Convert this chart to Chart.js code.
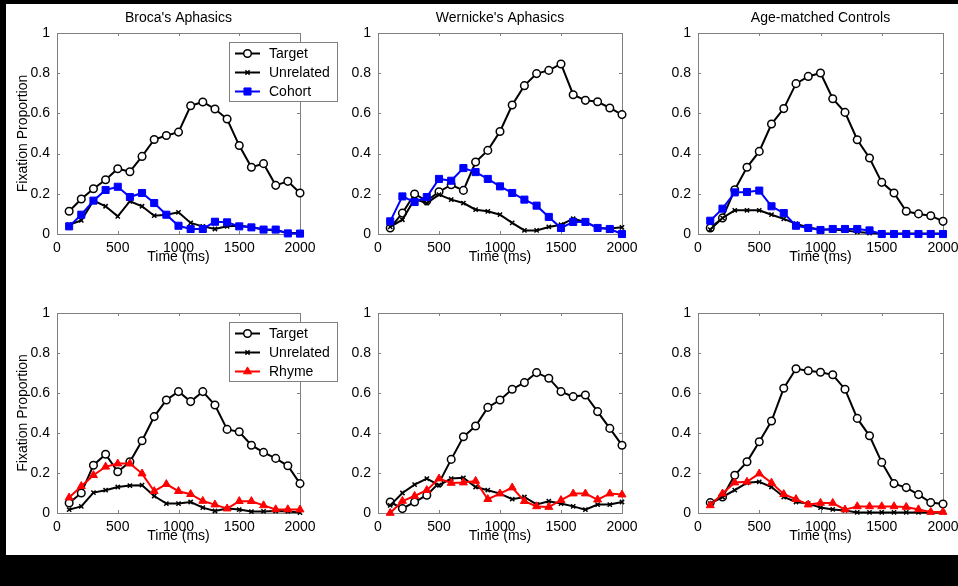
<!DOCTYPE html>
<html><head><meta charset="utf-8">
<script src="https://cdn.jsdelivr.net/npm/chart.js@4.4.0/dist/chart.umd.min.js"></script>
<style>
html,body{margin:0;padding:0;background:#fff;}
body{width:958px;height:586px;position:relative;overflow:hidden;}
canvas{position:absolute;}
.band{position:absolute;background:#000;z-index:10;}
</style></head><body>
<div class="band" style="left:0;top:0;width:958px;height:4px"></div>
<div class="band" style="left:0;top:0;width:6px;height:586px"></div>
<div class="band" style="left:0;top:555px;width:958px;height:31px"></div>
<script>
// ---- data ----
const timeMs = [100,200,300,400,500,600,700,800,900,1000,1100,1200,1300,1400,1500,1600,1700,1800,1900,2000];
const xTickValues = [0,500,1000,1500,2000];
const yTickValues = [0,0.2,0.4,0.6,0.8,1];
const panelTitles = ["Broca's Aphasics","Wernicke's Aphasics","Age-matched Controls"];
const seriesLabels = ["Target","Unrelated","Cohort","Rhyme"];
const yAxisLabel = "Fixation Proportion";
const xAxisLabel = "Time (ms)";

const brocaCohortTarget    = [0.113,0.174,0.225,0.27,0.325,0.31,0.386,0.47,0.49,0.507,0.638,0.657,0.622,0.572,0.44,0.332,0.35,0.242,0.262,0.204];
const brocaCohortUnrelated = [0.046,0.068,0.166,0.138,0.088,0.163,0.138,0.091,0.096,0.108,0.055,0.038,0.025,0.038,0.041,0.035,0.022,0.018,0.005,0.005];
const brocaCohort          = [0.038,0.096,0.166,0.219,0.235,0.184,0.204,0.154,0.096,0.041,0.025,0.025,0.061,0.058,0.038,0.033,0.022,0.022,0.003,0.002];

const wernCohortTarget     = [0.03,0.104,0.199,0.165,0.21,0.245,0.217,0.358,0.416,0.51,0.642,0.738,0.798,0.814,0.846,0.693,0.665,0.658,0.627,0.594];
const wernCohortUnrelated  = [0.035,0.071,0.174,0.154,0.196,0.171,0.154,0.121,0.113,0.096,0.055,0.018,0.018,0.035,0.046,0.076,0.06,0.03,0.027,0.033];
const wernCohort           = [0.063,0.187,0.159,0.184,0.274,0.265,0.328,0.308,0.274,0.237,0.204,0.171,0.141,0.085,0.03,0.06,0.06,0.03,0.025,0.0];

const ctrlCohortTarget     = [0.03,0.08,0.22,0.332,0.411,0.547,0.624,0.748,0.784,0.801,0.673,0.605,0.469,0.378,0.257,0.204,0.113,0.1,0.091,0.063];
const ctrlCohortUnrelated  = [0.022,0.08,0.118,0.118,0.118,0.096,0.075,0.051,0.033,0.022,0.022,0.018,0.01,0.005,0.002,0.002,0.002,0.002,0.002,0.002];
const ctrlCohort           = [0.066,0.126,0.207,0.209,0.216,0.138,0.104,0.041,0.03,0.02,0.025,0.025,0.025,0.018,0.0,0.0,0.0,0.0,0.0,0.0];

const brocaRhymeTarget     = [0.05,0.1,0.239,0.294,0.206,0.256,0.361,0.482,0.565,0.607,0.557,0.607,0.54,0.418,0.406,0.339,0.303,0.273,0.236,0.147];
const brocaRhymeUnrelated  = [0.017,0.033,0.102,0.114,0.13,0.137,0.139,0.085,0.047,0.047,0.055,0.027,0.01,0.022,0.017,0.007,0.008,0.01,0.008,0.002];
const brocaRhyme           = [0.077,0.134,0.189,0.231,0.247,0.247,0.197,0.109,0.144,0.109,0.094,0.06,0.042,0.022,0.059,0.059,0.038,0.018,0.018,0.017];

const wernRhymeTarget      = [0.055,0.022,0.055,0.089,0.15,0.268,0.381,0.435,0.528,0.565,0.619,0.652,0.702,0.674,0.607,0.582,0.59,0.507,0.423,0.339];
const wernRhymeUnrelated   = [0.038,0.1,0.142,0.172,0.139,0.172,0.176,0.13,0.114,0.097,0.069,0.08,0.043,0.059,0.047,0.033,0.017,0.042,0.042,0.055];
const wernRhyme            = [0,0.06,0.085,0.114,0.172,0.15,0.152,0.16,0.069,0.097,0.127,0.059,0.033,0.03,0.064,0.097,0.097,0.067,0.097,0.092];

const ctrlRhymeTarget      = [0.052,0.08,0.189,0.256,0.356,0.46,0.624,0.721,0.711,0.704,0.691,0.619,0.473,0.386,0.253,0.147,0.127,0.092,0.052,0.045];
const ctrlRhymeUnrelated   = [0.047,0.08,0.114,0.151,0.156,0.13,0.08,0.055,0.047,0.027,0.018,0.013,0.003,0.003,0.003,0.003,0.003,0.003,0.003,0.003];
const ctrlRhyme            = [0.038,0.097,0.152,0.156,0.197,0.151,0.094,0.069,0.042,0.05,0.05,0.017,0.033,0.033,0.033,0.033,0.03,0.018,0.005,0.005];

// ---- layout (plot rectangles in page pixels) ----
const FONT = "'Liberation Sans', Arial, Helvetica, sans-serif";
const L = 55, R = 40, T = 33, B = 40;
const panels = [
  {plot:[57,33,300,234],   title:panelTitles[0], yLabel:true,  legend:true,  t:brocaCohortTarget, u:brocaCohortUnrelated, c:brocaCohort, kind:'cohort'},
  {plot:[378,33,622,234],  title:panelTitles[1], yLabel:false, legend:false, t:wernCohortTarget,  u:wernCohortUnrelated,  c:wernCohort,  kind:'cohort'},
  {plot:[698,33,943,234],  title:panelTitles[2], yLabel:false, legend:false, t:ctrlCohortTarget,  u:ctrlCohortUnrelated,  c:ctrlCohort,  kind:'cohort'},
  {plot:[57,313,300,513],  title:null, yLabel:true,  legend:true,  t:brocaRhymeTarget, u:brocaRhymeUnrelated, c:brocaRhyme, kind:'rhyme'},
  {plot:[378,313,622,513], title:null, yLabel:false, legend:false, t:wernRhymeTarget,  u:wernRhymeUnrelated,  c:wernRhyme,  kind:'rhyme'},
  {plot:[698,313,943,513], title:null, yLabel:false, legend:false, t:ctrlRhymeTarget,  u:ctrlRhymeUnrelated,  c:ctrlRhyme,  kind:'rhyme'}
];

const toXY = arr => arr.map((v,i)=>({x:timeMs[i], y:v}));

const matlabPlugin = {
  id:'matlab',
  beforeDatasetsDraw(chart){
    const {ctx, chartArea:a, scales} = chart;
    ctx.save();
    ctx.strokeStyle = '#808080';
    ctx.lineWidth = 1;
    ctx.strokeRect(Math.round(a.left)+0.5, Math.round(a.top)+0.5, Math.round(a.right-a.left), Math.round(a.bottom-a.top));
    ctx.beginPath();
    const tl = 3;
    xTickValues.forEach(v=>{
      const px = Math.round(scales.x.getPixelForValue(v))+0.5;
      if (v===xTickValues[0]||v===xTickValues[xTickValues.length-1]) return;
      ctx.moveTo(px, a.bottom); ctx.lineTo(px, a.bottom-tl);
      ctx.moveTo(px, a.top); ctx.lineTo(px, a.top+tl);
    });
    yTickValues.forEach(v=>{
      const py = Math.round(scales.y.getPixelForValue(v))+0.5;
      if (v===yTickValues[0]||v===yTickValues[yTickValues.length-1]) return;
      ctx.moveTo(a.left, py); ctx.lineTo(a.left+tl, py);
      ctx.moveTo(a.right, py); ctx.lineTo(a.right-tl, py);
    });
    ctx.stroke();
    ctx.restore();
  },
  afterDraw(chart){
    const {ctx, chartArea:a} = chart;
    const o = chart.options.plugins.matlab;
    ctx.save();
    ctx.fillStyle = '#000';
    ctx.font = '14px ' + FONT;
    ctx.textAlign = 'center';
    ctx.textBaseline = 'alphabetic';
    const cx = (a.left+a.right)/2;
    if (o.title) ctx.fillText(o.title, cx, a.top - 11);
    ctx.fillText(xAxisLabel, cx, a.bottom + 27);
    if (o.yLabel) {
      ctx.save();
      ctx.translate(a.left - 30, (a.top+a.bottom)/2);
      ctx.rotate(-Math.PI/2);
      ctx.fillText(yAxisLabel, 0, 0);
      ctx.restore();
    }
    if (o.legend) {
      const bx = a.left + 172, by = a.top + 9, bw = 108, bh = 59;
      ctx.fillStyle = '#fff';
      ctx.fillRect(bx, by, bw, bh);
      ctx.strokeStyle = '#808080';
      ctx.lineWidth = 1;
      ctx.strokeRect(bx+0.5, by+0.5, bw, bh);
      chart.data.datasets.forEach((ds, i) => {
        const y = by + 11.5 + i*19;
        const x0 = bx + 6, x1 = bx + 31;
        ctx.strokeStyle = ds.borderColor;
        ctx.lineWidth = ds.borderWidth;
        ctx.beginPath(); ctx.moveTo(x0, y); ctx.lineTo(x1, y); ctx.stroke();
        ctx.fillStyle = ds.pointBackgroundColor;
        ctx.strokeStyle = ds.pointBorderColor;
        ctx.lineWidth = ds.pointBorderWidth;
        Chart.helpers.drawPoint(ctx, {pointStyle: ds.pointStyle, radius: ds.pointRadius, rotation: 0, borderWidth: ds.pointBorderWidth}, (x0+x1)/2, y);
        ctx.fillStyle = '#000';
        ctx.textAlign = 'left';
        ctx.textBaseline = 'middle';
        ctx.font = '14px ' + FONT;
        ctx.fillText(ds.label, bx + 40, y + 1);
      });
    }
    ctx.restore();
  }
};

panels.forEach((p, idx) => {
  const [pl, pt, pr, pb] = p.plot;
  const w = (pr - pl) + L + R, h = (pb - pt) + T + B;
  const cv = document.createElement('canvas');
  cv.width = w; cv.height = h;
  cv.style.left = (pl - L) + 'px';
  cv.style.top = (pt - T) + 'px';
  cv.style.width = w + 'px'; cv.style.height = h + 'px';
  document.body.appendChild(cv);

  const isC = p.kind === 'cohort';
  const compColor = isC ? '#0000ff' : '#ff0000';
  const datasets = [
    {label: seriesLabels[0], data: toXY(p.t), borderColor:'#000', borderWidth:2, pointStyle:'circle', pointRadius:3.8,
     pointBackgroundColor:'#fff', pointBorderColor:'#000', pointBorderWidth:1.5, order:2, clip:false},
    {label: seriesLabels[1], data: toXY(p.u), borderColor:'#000', borderWidth:2, pointStyle:'crossRot', pointRadius:3,
     pointBackgroundColor:'#000', pointBorderColor:'#000', pointBorderWidth:1.5, order:1, clip:false},
    {label: isC ? seriesLabels[2] : seriesLabels[3], data: toXY(p.c), borderColor:compColor, borderWidth:2,
     pointStyle: isC ? 'rect' : 'triangle', pointRadius: isC ? 5 : 4.6,
     pointBackgroundColor:compColor, pointBorderColor:compColor, pointBorderWidth:1, order:0, clip:false}
  ];

  new Chart(cv, {
    type:'line',
    data:{datasets},
    options:{
      responsive:false, animation:false, devicePixelRatio:1,
      layout:{padding:{left:0, right:R, top:T, bottom:0}},
      elements:{line:{tension:0}},
      plugins:{legend:{display:false}, tooltip:{enabled:false}, title:{display:false},
        matlab:{title:p.title, yLabel:p.yLabel, legend:p.legend}},
      scales:{
        x:{type:'linear', min:0, max:2000,
           grid:{display:false, drawTicks:false}, border:{display:false},
           afterBuildTicks: s => { s.ticks = xTickValues.map(v=>({value:v})); },
           afterFit: s => { s.height = B; },
           ticks:{color:'#000', padding:6, maxRotation:0, autoSkip:false, font:{family:FONT, size:14}, callback: v => String(v)}},
        y:{type:'linear', min:0, max:1,
           grid:{display:false, drawTicks:false}, border:{display:false},
           afterBuildTicks: s => { s.ticks = yTickValues.map(v=>({value:v})); },
           afterFit: s => { s.width = L; },
           ticks:{color:'#000', padding:7, font:{family:FONT, size:14}, callback: v => String(v)}}
      }
    },
    plugins:[matlabPlugin]
  });
});
</script>
</body></html>
